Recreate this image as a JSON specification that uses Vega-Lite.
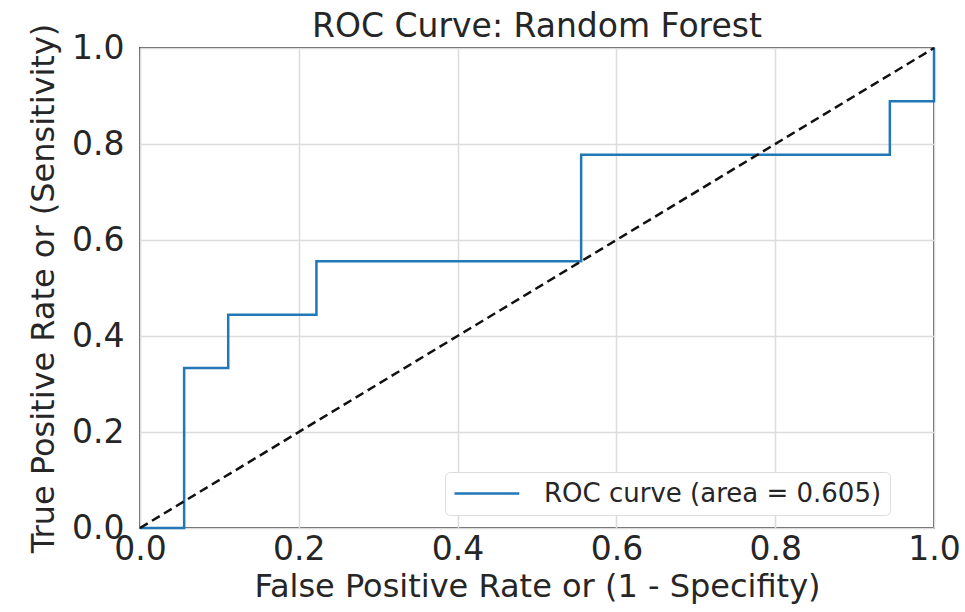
{
  "$schema": "https://vega.github.io/schema/vega-lite/v6.json",
  "width": 794,
  "height": 480,
  "autosize": {"type": "none"},
  "padding": {"left": 140, "top": 48, "right": 31, "bottom": 84},
  "background": "white",
  "title": {"text": "ROC Curve: Random Forest", "font": "DejaVu Sans", "fontSize": 33, "fontWeight": "normal", "color": "#262626", "offset": 8, "frame": "group", "dy": 29},
  "datasets": {
    "roc": [
      {"idx": 0, "fpr": 0.0, "tpr": 0.0},
      {"idx": 1, "fpr": 0.0556, "tpr": 0.0},
      {"idx": 2, "fpr": 0.0556, "tpr": 0.3333},
      {"idx": 3, "fpr": 0.1111, "tpr": 0.3333},
      {"idx": 4, "fpr": 0.1111, "tpr": 0.4444},
      {"idx": 5, "fpr": 0.2222, "tpr": 0.4444},
      {"idx": 6, "fpr": 0.2222, "tpr": 0.5556},
      {"idx": 7, "fpr": 0.5556, "tpr": 0.5556},
      {"idx": 8, "fpr": 0.5556, "tpr": 0.7778},
      {"idx": 9, "fpr": 0.9444, "tpr": 0.7778},
      {"idx": 10, "fpr": 0.9444, "tpr": 0.8889},
      {"idx": 11, "fpr": 1.0, "tpr": 0.8889},
      {"idx": 12, "fpr": 1.0, "tpr": 1.0}
    ],
    "diag": [
      {"fpr": 0.0, "tpr": 0.0},
      {"fpr": 1.0, "tpr": 1.0}
    ]
  },
  "layer": [
    {
      "data": {"name": "roc"},
      "mark": {"type": "line", "strokeWidth": 2.5, "clip": false},
      "encoding": {
        "x": {"field": "fpr", "type": "quantitative", "scale": {"domain": [0, 1], "nice": false, "zero": false}, "title": "False Positive Rate or (1 - Specifity)"},
        "y": {"field": "tpr", "type": "quantitative", "scale": {"domain": [0, 1], "nice": false, "zero": false}, "title": "True Positive Rate or (Sensitivity)"},
        "order": {"field": "idx", "type": "quantitative"},
        "color": {"datum": "ROC curve (area = 0.605)", "type": "nominal", "scale": {"range": ["#2277b6"]}, "legend": {"title": null, "orient": "none", "legendX": 305, "legendY": 424}}
      }
    },
    {
      "data": {"name": "diag"},
      "mark": {"type": "line", "color": "#111111", "strokeWidth": 2.5, "strokeDash": [9, 5]},
      "encoding": {
        "x": {"field": "fpr", "type": "quantitative"},
        "y": {"field": "tpr", "type": "quantitative"}
      }
    }
  ],
  "config": {
    "font": "DejaVu Sans",
    "view": {"stroke": "#5a5a5a", "strokeWidth": 2},
    "axis": {
      "domain": false,
      "ticks": false,
      "grid": true,
      "gridColor": "#dcdcdc",
      "gridWidth": 1.5,
      "labelFont": "DejaVu Sans",
      "labelFontSize": 33,
      "labelColor": "#262626",
      "titleFont": "DejaVu Sans",
      "titleFontSize": 32,
      "titleFontWeight": "normal",
      "titleColor": "#262626",
      "tickCount": 5,
      "format": ".1f"
    },
    "axisX": {"labelPadding": 5, "titlePadding": 5, "labelFlush": false},
    "axisY": {"labelPadding": 16, "titlePadding": 11, "labelFlush": false},
    "legend": {
      "symbolType": "M-1,0H4.4",
      "symbolSize": 576,
      "symbolStrokeWidth": 2.5,
      "labelFont": "DejaVu Sans",
      "labelFontSize": 26,
      "labelLimit": 0,
      "labelColor": "#262626",
      "labelOffset": 64,
      "padding": 8,
      "cornerRadius": 5,
      "strokeColor": "#dddddd",
      "fillColor": "white"
    }
  }
}
